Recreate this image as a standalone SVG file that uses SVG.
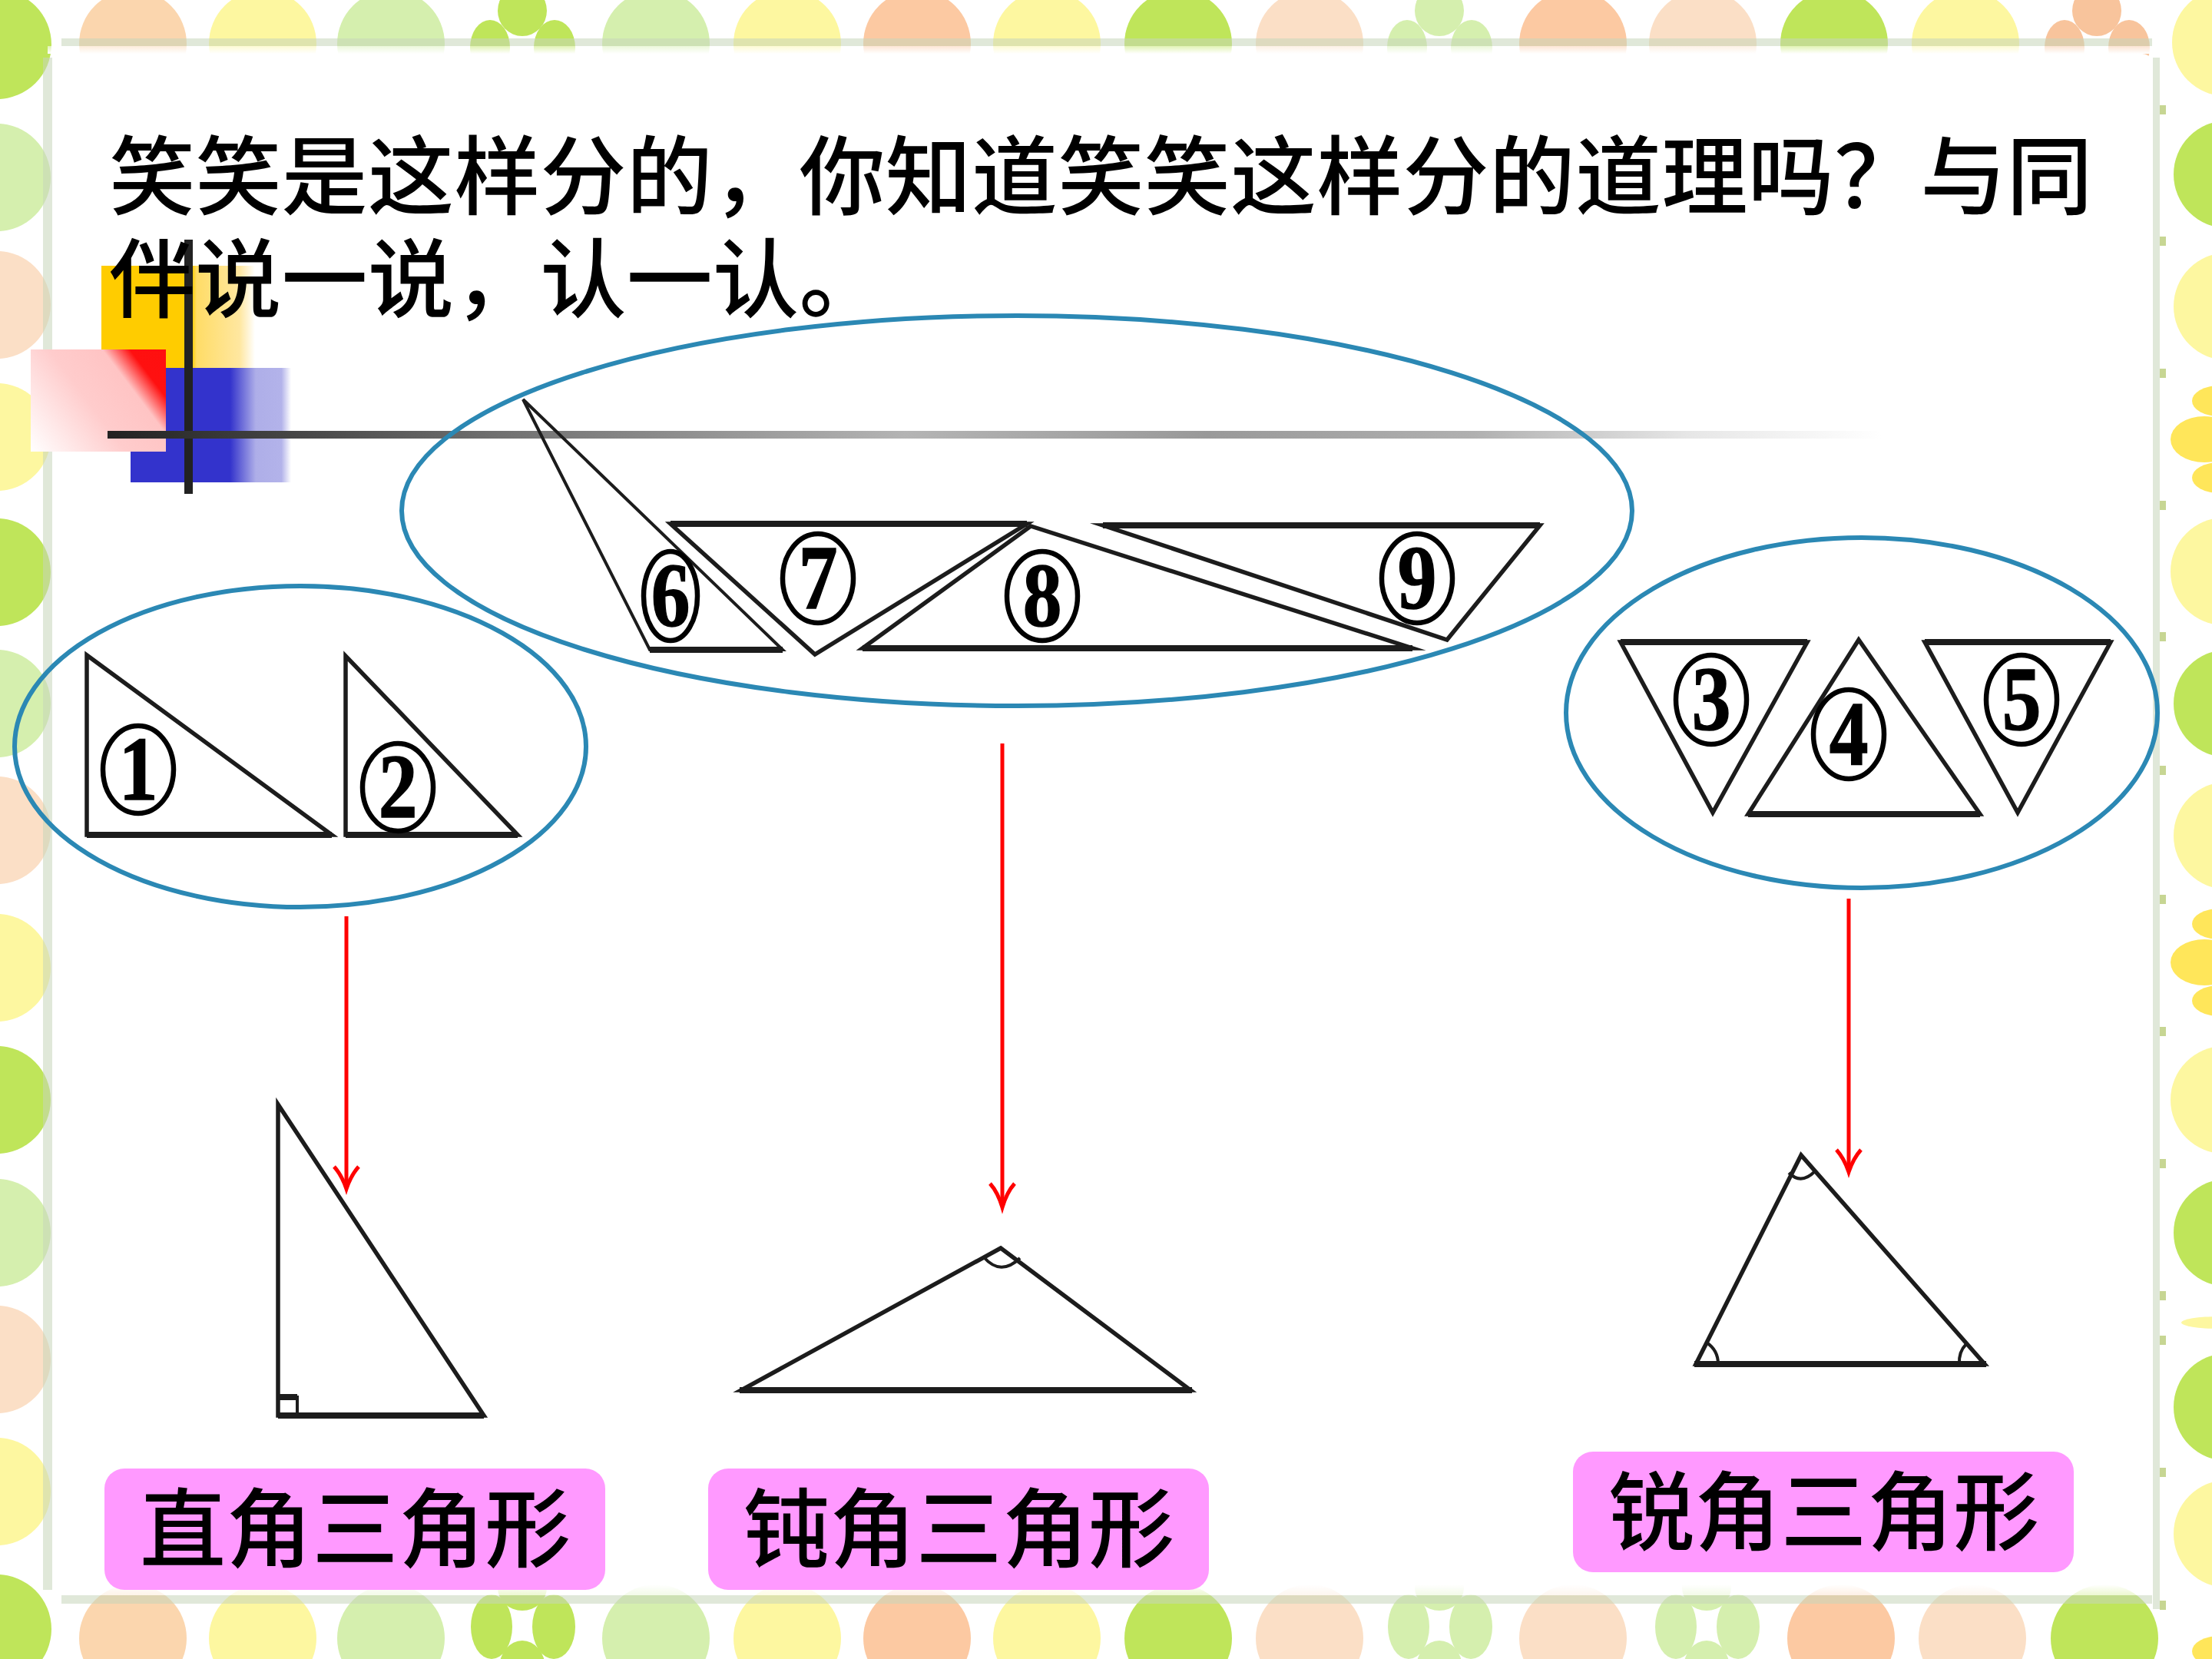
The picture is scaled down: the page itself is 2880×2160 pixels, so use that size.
<svg xmlns="http://www.w3.org/2000/svg" width="2880" height="2160" viewBox="0 0 2880 2160">
<style>
.g{fill:#bfe55a}.lg{fill:#d5efae}.y{fill:#fdf7a0}.o{fill:#fcc9a2}.po{fill:#fbd6ae}.lp{fill:#fbdfc6}.fy{fill:#ffe65a}.fo{fill:#f8c49c}
.band{fill:#c6d5ba;opacity:.55}
.tick{fill:#b9cc78;opacity:.8}
.ring{fill:none;stroke:#2b88b4;stroke-width:6}
.tri{fill:none;stroke:#1c1c1c;stroke-width:5.5;stroke-linejoin:miter;stroke-miterlimit:12}
.base{fill:none;stroke:#1c1c1c;stroke-width:8}
.thin{fill:none;stroke:#1c1c1c;stroke-width:4}
.badge{fill:#fff;stroke:#000;stroke-width:6.5}
.num{font-family:"Liberation Serif",serif;font-weight:700;font-size:118px;text-anchor:middle;fill:#000;stroke:#000;stroke-width:1.5}
.cjk{font-family:"Noto Sans CJK SC","Noto Sans CJK TC",sans-serif;font-weight:500;font-size:112px;letter-spacing:.3px;fill:#000}
.tag{fill:#ff99ff}
</style>
<defs>
<linearGradient id="fadeTop" x1="0" y1="0" x2="0" y2="1"><stop offset="0" stop-color="#fff" stop-opacity=".55"/><stop offset="1" stop-color="#fff"/></linearGradient>
<linearGradient id="fadeBottom" x1="0" y1="0" x2="0" y2="1"><stop offset="0" stop-color="#fff"/><stop offset="1" stop-color="#fff" stop-opacity=".72"/></linearGradient>
<linearGradient id="yellowBar" x1="0" y1="0" x2="1" y2="0"><stop offset="0" stop-color="#ffcc00"/><stop offset=".59" stop-color="#ffcc00"/><stop offset=".62" stop-color="#ffdc66"/><stop offset=".9" stop-color="#ffe7a0"/><stop offset="1" stop-color="#fff"/></linearGradient>
<linearGradient id="blueBar" x1="0" y1="0" x2="1" y2="0"><stop offset="0" stop-color="#3333cc"/><stop offset=".62" stop-color="#3333cc"/><stop offset=".78" stop-color="#aeaee8"/><stop offset=".94" stop-color="#b3b3ea"/><stop offset="1" stop-color="#fff"/></linearGradient>
<linearGradient id="pinkCorner" gradientUnits="userSpaceOnUse" x1="216" y1="455" x2="40" y2="588"><stop offset="0" stop-color="#ff0f0f"/><stop offset=".17" stop-color="#ff1010"/><stop offset=".3" stop-color="#ffc4c4"/><stop offset=".55" stop-color="#ffcccc"/><stop offset="1" stop-color="#fff"/></linearGradient>
<linearGradient id="rule" gradientUnits="userSpaceOnUse" x1="140" y1="0" x2="2450" y2="0"><stop offset="0" stop-color="#222"/><stop offset=".1" stop-color="#444"/><stop offset=".22" stop-color="#707070"/><stop offset=".45" stop-color="#b4b4b4"/><stop offset=".62" stop-color="#999"/><stop offset=".77" stop-color="#b0b0b0"/><stop offset=".89" stop-color="#e6e6e6"/><stop offset="1" stop-color="#fff"/></linearGradient>
</defs>

<rect width="2880" height="2160" fill="#fff"/>

<!-- top row of dots -->
<g id="dots-top">
<circle class="po" cx="173" cy="57" r="70"/><circle class="y" cx="342" cy="57" r="70"/><circle class="lg" cx="509" cy="57" r="70"/>
<circle class="lg" cx="854" cy="57" r="70"/><circle class="y" cx="1025" cy="57" r="70"/><circle class="o" cx="1194" cy="57" r="70"/>
<circle class="y" cx="1363" cy="57" r="70"/><circle class="g" cx="1534" cy="57" r="70"/><circle class="lp" cx="1705" cy="57" r="70"/>
<circle class="o" cx="2048" cy="57" r="70"/><circle class="lp" cx="2217" cy="57" r="70"/><circle class="g" cx="2388" cy="57" r="70"/><circle class="y" cx="2559" cy="57" r="70"/>
<ellipse class="g" cx="680" cy="14" rx="32" ry="33"/><ellipse class="g" cx="638" cy="62" rx="26" ry="36"/><ellipse class="g" cx="722" cy="62" rx="27" ry="36"/>
<ellipse class="lg" cx="1874" cy="14" rx="32" ry="33"/><ellipse class="lg" cx="1832" cy="62" rx="26" ry="36"/><ellipse class="lg" cx="1916" cy="62" rx="27" ry="36"/>
<ellipse class="fo" cx="2730" cy="14" rx="32" ry="33"/><ellipse class="fo" cx="2688" cy="62" rx="26" ry="36"/><ellipse class="fo" cx="2772" cy="62" rx="27" ry="36"/>
</g>

<!-- bottom row of dots -->
<g id="dots-bottom">
<circle class="po" cx="173" cy="2133" r="70"/><circle class="y" cx="342" cy="2133" r="70"/><circle class="lg" cx="509" cy="2133" r="70"/>
<circle class="lg" cx="854" cy="2133" r="70"/><circle class="y" cx="1025" cy="2133" r="70"/><circle class="o" cx="1194" cy="2133" r="70"/>
<circle class="y" cx="1363" cy="2133" r="70"/><circle class="g" cx="1534" cy="2133" r="70"/><circle class="lp" cx="1705" cy="2133" r="70"/>
<circle class="lp" cx="2048" cy="2133" r="70"/><circle class="o" cx="2397" cy="2133" r="70"/><circle class="lp" cx="2568" cy="2133" r="70"/><circle class="g" cx="2740" cy="2133" r="70"/>
<ellipse class="g" cx="680" cy="2067" rx="32" ry="30"/><ellipse class="g" cx="640" cy="2118" rx="27" ry="42"/><ellipse class="g" cx="721" cy="2118" rx="28" ry="42"/><ellipse class="g" cx="680" cy="2172" rx="30" ry="36"/>
<ellipse class="lg" cx="1874" cy="2067" rx="32" ry="30"/><ellipse class="lg" cx="1834" cy="2118" rx="27" ry="42"/><ellipse class="lg" cx="1915" cy="2118" rx="28" ry="42"/><ellipse class="lg" cx="1874" cy="2172" rx="30" ry="36"/>
<ellipse class="lg" cx="2222" cy="2067" rx="32" ry="30"/><ellipse class="lg" cx="2182" cy="2118" rx="27" ry="42"/><ellipse class="lg" cx="2263" cy="2118" rx="28" ry="42"/><ellipse class="lg" cx="2222" cy="2172" rx="30" ry="36"/>
</g>

<!-- left column of dots -->
<g id="dots-left">
<circle class="g" cx="-4" cy="58" r="71"/><circle class="lg" cx="-4" cy="231" r="70"/><circle class="lp" cx="-4" cy="397" r="70"/><circle class="y" cx="-4" cy="569" r="70"/>
<circle class="g" cx="-4" cy="745" r="70"/><circle class="lg" cx="-4" cy="916" r="70"/><circle class="lp" cx="-4" cy="1081" r="70"/><circle class="y" cx="-4" cy="1260" r="70"/>
<circle class="g" cx="-4" cy="1432" r="70"/><circle class="lg" cx="-4" cy="1605" r="70"/><circle class="lp" cx="-4" cy="1770" r="70"/><circle class="y" cx="-4" cy="1942" r="70"/>
<circle class="g" cx="-4" cy="2121" r="71"/>
</g>

<!-- right column of dots -->
<g id="dots-right">
<circle class="y" cx="2898" cy="55" r="70"/><circle class="g" cx="2900" cy="227" r="70"/><circle class="y" cx="2900" cy="399" r="70"/>
<ellipse class="fy" cx="2870" cy="572" rx="44" ry="30"/><ellipse class="fy" cx="2890" cy="522" rx="36" ry="20"/><ellipse class="fy" cx="2890" cy="622" rx="36" ry="20"/>
<circle class="y" cx="2896" cy="744" r="70"/><circle class="g" cx="2900" cy="916" r="70"/><circle class="y" cx="2900" cy="1088" r="70"/>
<ellipse class="fy" cx="2870" cy="1253" rx="44" ry="30"/><ellipse class="fy" cx="2890" cy="1203" rx="36" ry="20"/><ellipse class="fy" cx="2890" cy="1303" rx="36" ry="20"/>
<circle class="y" cx="2896" cy="1432" r="70"/><circle class="g" cx="2900" cy="1605" r="70"/><ellipse class="y" cx="2890" cy="1722" rx="50" ry="8"/>
<circle class="g" cx="2900" cy="1832" r="70"/><circle class="y" cx="2900" cy="1997" r="70"/>
<ellipse class="fy" cx="2890" cy="2150" rx="36" ry="20"/>
</g>

<!-- white slide panel with its soft edge bands -->
<g id="panel">
<rect x="66" y="70" width="2737" height="1993" rx="14" fill="#fff"/>
<rect x="62" y="60" width="2745" height="10" fill="url(#fadeTop)"/>
<rect x="62" y="2063" width="2745" height="14" fill="url(#fadeBottom)"/>
<rect class="band" x="80" y="50" width="2722" height="10"/>
<rect class="band" x="80" y="2077" width="2722" height="11"/>
<rect class="band" x="56" y="75" width="12" height="1995"/>
<rect class="band" x="2803" y="75" width="9" height="2020"/>
<g id="edge-ticks">
<rect class="tick" x="2812" y="137" width="8" height="12"/><rect class="tick" x="2812" y="308" width="8" height="12"/><rect class="tick" x="2812" y="480" width="8" height="12"/>
<rect class="tick" x="2812" y="652" width="8" height="12"/><rect class="tick" x="2812" y="823" width="8" height="12"/><rect class="tick" x="2812" y="997" width="8" height="12"/>
<rect class="tick" x="2812" y="1165" width="8" height="12"/><rect class="tick" x="2812" y="1337" width="8" height="12"/><rect class="tick" x="2812" y="1509" width="8" height="12"/>
<rect class="tick" x="2812" y="1681" width="8" height="12"/><rect class="tick" x="2812" y="1739" width="8" height="12"/><rect class="tick" x="2812" y="1911" width="8" height="12"/><rect class="tick" x="2812" y="2084" width="8" height="12"/>
</g>
</g>

<!-- bullet decoration -->
<g id="bullet">
<rect x="132" y="346" width="200" height="133" fill="url(#yellowBar)"/>
<rect x="170" y="479" width="209" height="149" fill="url(#blueBar)"/>
<rect x="40" y="455" width="176" height="133" fill="url(#pinkCorner)"/>
<rect x="240" y="312" width="11" height="331" fill="#222"/>
<rect x="140" y="561" width="2310" height="10" fill="url(#rule)"/>
</g>

<g id="heading">
<text class="cjk" x="142" y="271">笑笑是这样分的，你知道笑笑这样分的道理吗？与同</text>
<text class="cjk" x="142" y="405">伴说一说，认一认。</text>
</g>

<!-- right-angled group: 1, 2 -->
<g id="group-right-angled">
<ellipse class="ring" cx="391" cy="972" rx="372" ry="209"/>
<path class="tri" d="M113 853V1087H432Z"/><path class="base" d="M113 1087H432"/>
<path class="tri" d="M450 854V1087H674Z"/><path class="base" d="M450 1087H674"/>
<ellipse class="badge" cx="180" cy="1002" rx="46" ry="57"/><text class="num" transform="translate(180 1041) scale(.86 1)">1</text>
<ellipse class="badge" cx="518" cy="1025" rx="46" ry="57"/><text class="num" transform="translate(518 1064) scale(.86 1)">2</text>
</g>

<!-- obtuse group: 6, 7, 8, 9 -->
<g id="group-obtuse">
<ellipse class="ring" cx="1324" cy="665" rx="801" ry="254"/>
<path class="thin" d="M681 520L846 846H1019Z"/><path class="base" d="M846 846H1019"/>
<path class="tri" d="M873 682H1337L1061 852Z"/><path class="base" d="M873 682H1337"/>
<path class="tri" d="M1342 685L1123 844H1839Z"/><path class="base" d="M1123 844H1839"/>
<path class="tri" d="M1436 684H2005L1884 833Z"/><path class="base" d="M1436 684H2005"/>
<ellipse class="badge" cx="873" cy="776" rx="35" ry="58"/><text class="num" transform="translate(873 815) scale(.86 1)">6</text>
<ellipse class="badge" cx="1065" cy="753" rx="46" ry="58"/><text class="num" transform="translate(1065 792) scale(.86 1)">7</text>
<ellipse class="badge" cx="1357" cy="776" rx="46" ry="58"/><text class="num" transform="translate(1357 815) scale(.86 1)">8</text>
<ellipse class="badge" cx="1845" cy="753" rx="46" ry="58"/><text class="num" transform="translate(1845 792) scale(.86 1)">9</text>
</g>

<!-- acute group: 3, 4, 5 -->
<g id="group-acute">
<ellipse class="ring" cx="2424" cy="928" rx="385" ry="228"/>
<path class="tri" d="M2110 836H2353L2230 1058Z"/><path class="base" d="M2110 836H2353"/>
<path class="tri" d="M2420 833L2276 1060H2578Z"/><path class="base" d="M2276 1060H2578"/>
<path class="tri" d="M2506 836H2748L2627 1058Z"/><path class="base" d="M2506 836H2748"/>
<ellipse class="badge" cx="2228" cy="911" rx="46" ry="58"/><text class="num" transform="translate(2228 950) scale(.86 1)">3</text>
<ellipse class="badge" cx="2407" cy="956" rx="46" ry="58"/><text class="num" transform="translate(2407 995) scale(.86 1)">4</text>
<ellipse class="badge" cx="2632" cy="911" rx="46" ry="58"/><text class="num" transform="translate(2632 950) scale(.86 1)">5</text>
</g>

<!-- example triangles with their angle marks -->
<g id="example-right">
<path class="tri" d="M362 1438V1843H630Z"/><path class="base" d="M362 1843H630"/>
<path class="thin" d="M362 1819H387V1843"/><path class="base" d="M362 1819H387"/>
</g>
<g id="example-obtuse">
<path class="tri" d="M1303 1625L965 1810H1550Z"/><path class="base" d="M963 1810H1552"/>
<path class="thin" d="M1281 1637Q1303 1662 1328 1638"/>
</g>
<g id="example-acute">
<path class="tri" d="M2345 1504L2208 1776H2584Z"/><path class="base" d="M2206 1776H2586"/>
<path class="thin" d="M2329 1527Q2345 1543 2363 1525"/>
<path class="thin" d="M2222 1748Q2237 1758 2237 1776"/>
<path class="thin" d="M2560 1750Q2550 1760 2551 1776"/>
</g>

<!-- connectors from each group down to its example -->
<g id="connectors" fill="none" stroke="#f00" stroke-width="5">
<path d="M451 1193V1546"/><path d="M435 1519Q445 1530 451 1548Q457 1530 467 1519"/>
<path d="M1305 968V1570"/><path d="M1289 1541Q1299 1552 1305 1572Q1311 1552 1321 1541"/>
<path d="M2407 1170V1524"/><path d="M2391 1497Q2401 1508 2407 1526Q2413 1508 2423 1497"/>
</g>

<!-- category labels -->
<g id="label-right"><rect class="tag" x="136" y="1912" width="652" height="158" rx="26"/><text class="cjk" x="182" y="2032">直角三角形</text></g>
<g id="label-obtuse"><rect class="tag" x="922" y="1912" width="652" height="158" rx="26"/><text class="cjk" x="968" y="2032">钝角三角形</text></g>
<g id="label-acute"><rect class="tag" x="2048" y="1890" width="652" height="157" rx="26"/><text class="cjk" x="2094" y="2010">锐角三角形</text></g>
</svg>
